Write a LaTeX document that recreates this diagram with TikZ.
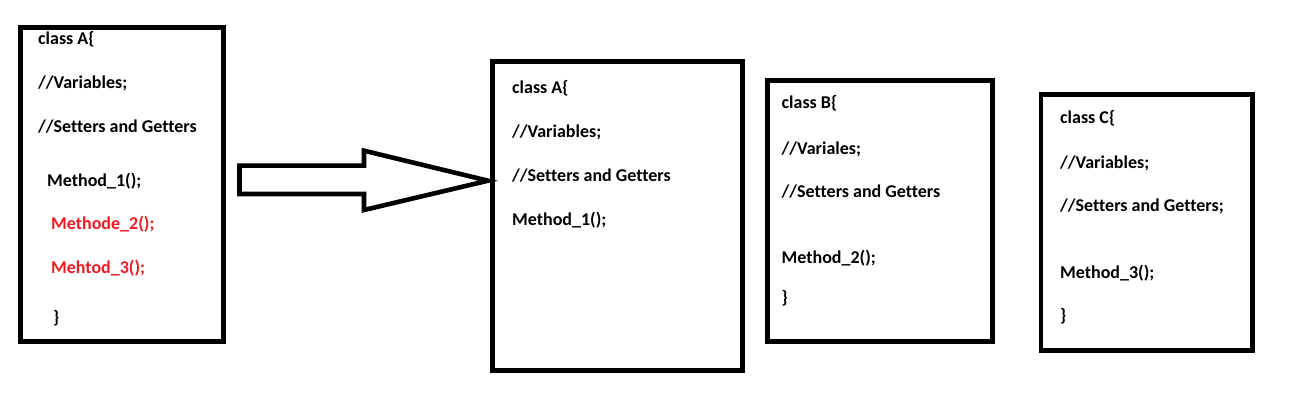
\documentclass[tikz,border=0pt]{standalone}
\usepackage{fontspec}
\setmainfont{Carlito}[Ligatures={NoCommon}]
\definecolor{paintred}{RGB}{237,28,36}
\begin{document}
\begin{tikzpicture}[x=1pt,y=-1pt,
  box/.style={draw=black,line width=4.6pt},
  code/.style={anchor=west,inner sep=0pt,font=\fontsize{18}{21}\selectfont\bfseries,text=black},
  redcode/.style={code,text=paintred}]
\useasboundingbox[fill=white] (0,0) rectangle (1302,419);
% boxes
\draw[box] (20.5,27.5) rectangle (223.5,341.5);
\draw[box] (492.5,61.7) rectangle (742.5,370.5);
\draw[box] (767.5,80.5) rectangle (992.5,341.5);
\draw[box] (1040.8,94.5) rectangle (1252.5,350.5);
% big arrow
\draw[line width=4.6pt,line join=miter] (239.5,165.7) -- (364,165.7) -- (364,150.7) -- (488,180.7) -- (364,210) -- (364,194) -- (239.5,194) -- cycle;
% box 1
\node[code] (a1) at (38,39) {class A\{};
\node[code] (a2) at (38,83) {//Variables;};
\node[code] (a3) at (38,127) {//Setters and Getters};
\node[code] (a4) at (47,181) {Method\_1();};
\node[redcode] (a5) at (51,224) {Methode\_2();};
\node[redcode] (a6) at (51,268) {Mehtod\_3();};
\node[code] (a7) at (53,318) {\}};
% box 2
\node[code] (b1) at (512,88) {class A\{};
\node[code] (b2) at (512,132) {//Variables;};
\node[code] (b3) at (512,176) {//Setters and Getters};
\node[code] (b4) at (512,220) {Method\_1();};
% box 3
\node[code] (c1) at (781.5,103.3) {class B\{};
\node[code] (c2) at (781.5,149) {//Variales;};
\node[code] (c3) at (781.5,191.7) {//Setters and Getters};
\node[code] (c4) at (781.5,258.3) {Method\_2();};
\node[code] (c5) at (781.5,298.3) {\}};
% box 4
\node[code] (d1) at (1060,118.3) {class C\{};
\node[code] (d2) at (1060,163.3) {//Variables;};
\node[code] (d3) at (1060,206.7) {//Setters and Getters;};
\node[code] (d4) at (1060,273.3) {Method\_3();};
\node[code] (d5) at (1060,316.7) {\}};
\end{tikzpicture}
\end{document}
